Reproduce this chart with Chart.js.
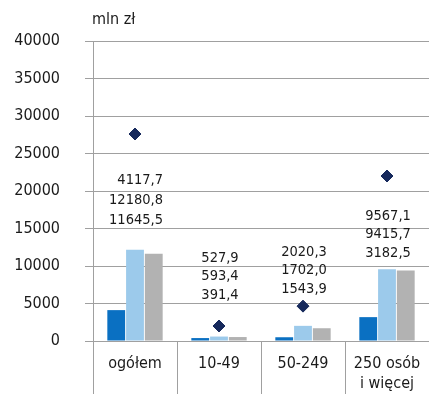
<!DOCTYPE html>
<html>
<head>
<meta charset="utf-8">
<script src="https://cdn.jsdelivr.net/npm/chart.js@4"></script>
<style>
  html, body { margin: 0; padding: 0; background: #fff; }
  #wrap { width: 429px; height: 394px; position: relative; }
</style>
</head>
<body>
<div id="wrap"><canvas id="chart"></canvas></div>
<script>
const categories = ["ogółem", "10-49", "50-249", ["250 osób", "i więcej"]];
const seriesDark = [4117.7, 391.4, 500, 3182.5];
const seriesLight = [12180.8, 593.4, 2020.3, 9567.1];
const seriesGray = [11645.5, 527.9, 1702.0, 9415.7];
const diamonds = [27600, 2000, 4650, 22000];
const valueLabels = [
  ["4117,7", "12180,8", "11645,5"],
  ["527,9", "593,4", "391,4"],
  ["2020,3", "1702,0", "1543,9"],
  ["9567,1", "9415,7", "3182,5"]
];
const yTicks = [0, 5000, 10000, 15000, 20000, 25000, 30000, 35000, 40000];
const unitLabel = "mln zł";

const FONT = "'Liberation Sans Narrow', 'DejaVu Sans Condensed', sans-serif";
const GRID = "#a0a0a0";

// where the stacked value texts sit (value of first line, px between lines)
const labelAnchor = [21470, 11070, 11870, 16670];
const labelStep = [20, 18.5, 18.5, 18.5];

const textPlugin = {
  id: "texts",
  afterDraw(chart) {
    const { ctx, chartArea, scales } = chart;
    ctx.save();
    ctx.fillStyle = "#1a1a1a";
    ctx.textBaseline = "middle";

    ctx.font = "16px " + FONT;
    ctx.textAlign = "left";
    ctx.fillText(unitLabel, chartArea.left - 1, 20);

    ctx.font = "14.5px " + FONT;
    ctx.textAlign = "right";
    valueLabels.forEach((lines, i) => {
      const cx = scales.x.getPixelForValue(i);
      const maxW = Math.max(...lines.map(t => ctx.measureText(t).width));
      const right = cx + maxW / 2 + 1;
      const y0 = scales.y.getPixelForValue(labelAnchor[i]);
      lines.forEach((t, k) => ctx.fillText(t, right, y0 + k * labelStep[i]));
    });
    ctx.restore();
  }
};

new Chart(document.getElementById("chart"), {
  type: "bar",
  data: {
    labels: categories,
    datasets: [
      {
        type: "scatter",
        data: diamonds.map((v, i) => ({ x: i, y: v })),
        pointStyle: "rectRot",
        pointRadius: 6,
        backgroundColor: "#16295c",
        borderColor: "#16295c",
        showLine: false,
        order: 0
      },
      { data: seriesDark, backgroundColor: "#0a70c2", categoryPercentage: 0.67, barPercentage: 0.95, order: 1 },
      { data: seriesLight, backgroundColor: "#9ccaeb", categoryPercentage: 0.67, barPercentage: 0.95, order: 1 },
      { data: seriesGray, backgroundColor: "#b2b2b2", categoryPercentage: 0.67, barPercentage: 0.95, order: 1 }
    ]
  },
  options: {
    responsive: true,
    maintainAspectRatio: false,
    animation: false,
    layout: { autoPadding: false, padding: { top: 41, right: 0, left: 0, bottom: 0 } },
    plugins: {
      legend: { display: false },
      tooltip: { enabled: false }
    },
    scales: {
      x: {
        type: "category",
        offset: true,
        grid: {
          offset: true,
          drawOnChartArea: false,
          color: GRID,
          tickLength: 53,
          tickColor: GRID
        },
        border: { color: GRID },
        ticks: {
          color: "#1a1a1a",
          font: { family: FONT, size: 16, lineHeight: 1.3 },
          padding: -41,
          maxRotation: 0,
          autoSkip: false
        },
        afterFit: (s) => { s.height = 53; }
      },
      y: {
        min: 0,
        max: 40000,
        afterBuildTicks: (s) => { s.ticks = yTicks.map(v => ({ value: v })); },
        grid: { color: GRID, tickLength: 8, tickColor: GRID },
        border: { color: GRID },
        ticks: {
          color: "#1a1a1a",
          font: { family: FONT, size: 16 },
          padding: 25,
          callback: (v) => String(v)
        },
        afterFit: (s) => { s.width = 93; }
      }
    }
  },
  plugins: [textPlugin]
});
</script>
</body>
</html>
